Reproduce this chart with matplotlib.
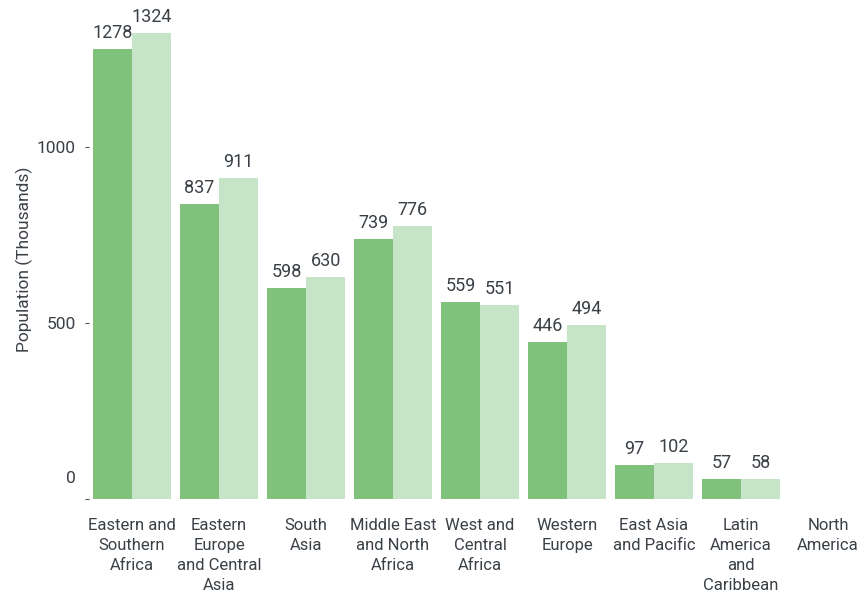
import matplotlib.pyplot as plt
import matplotlib.transforms as mtransforms
import numpy as np

# regions and the two series (population, thousands)
regions = ['Eastern and\nSouthern\nAfrica', 'Eastern\nEurope\nand Central\nAsia', 'South\nAsia',
           'Middle East\nand North\nAfrica', 'West and\nCentral\nAfrica', 'Western\nEurope',
           'East Asia\nand Pacific', 'Latin\nAmerica\nand\nCaribbean', 'North\nAmerica']
series_a = [1278, 837, 598, 739, 559, 446, 97, 57, None]
series_b = [1324, 911, 630, 776, 551, 494, 102, 58, None]
yticks = [0, 500, 1000]

plt.rcParams['font.family'] = ['Roboto', 'DejaVu Sans']
text_color = '#3a4046'
dark = '#80c17b'
light = '#c6e4c8'

fig = plt.figure(figsize=(8.61, 5.93), dpi=100)
ax = fig.add_axes([0.1028, 0.1585, 0.9094, 0.8078])

x = np.arange(len(regions))
width = 0.45
for i in range(len(regions)):
    for val, off, col in [(series_a[i], -width/2, dark), (series_b[i], width/2, light)]:
        if val is None:
            continue
        ax.bar(x[i] + off, val, width, color=col, linewidth=0)
        ax.annotate(str(val), (x[i] + off, val), xytext=(0, 5), textcoords='offset points',
                    ha='center', va='bottom', fontsize=13, color=text_color)

ax.set_xlim(-0.5, 8.5)
ax.set_ylim(0, 1360)
ax.set_xticks(x)
ax.set_xticklabels(regions, fontsize=12, color=text_color, linespacing=1.4)
ax.set_yticks(yticks)
ax.set_yticklabels([str(t) for t in yticks], fontsize=12.5, color=text_color)
ax.tick_params(axis='x', length=0, pad=14)
ax.tick_params(axis='y', length=3, width=0.8, color='#555555', pad=6)

# the "0" label sits a little above its tick in the original
lbl0 = ax.get_yticklabels()[0]
lbl0.set_transform(lbl0.get_transform() + mtransforms.ScaledTranslation(0, 0.22, fig.dpi_scale_trans))

for s in ax.spines.values():
    s.set_visible(False)

ax.set_ylabel('Population (Thousands)', fontsize=12.5, color=text_color, labelpad=3)

plt.savefig('out.png', dpi=100, facecolor='white')
